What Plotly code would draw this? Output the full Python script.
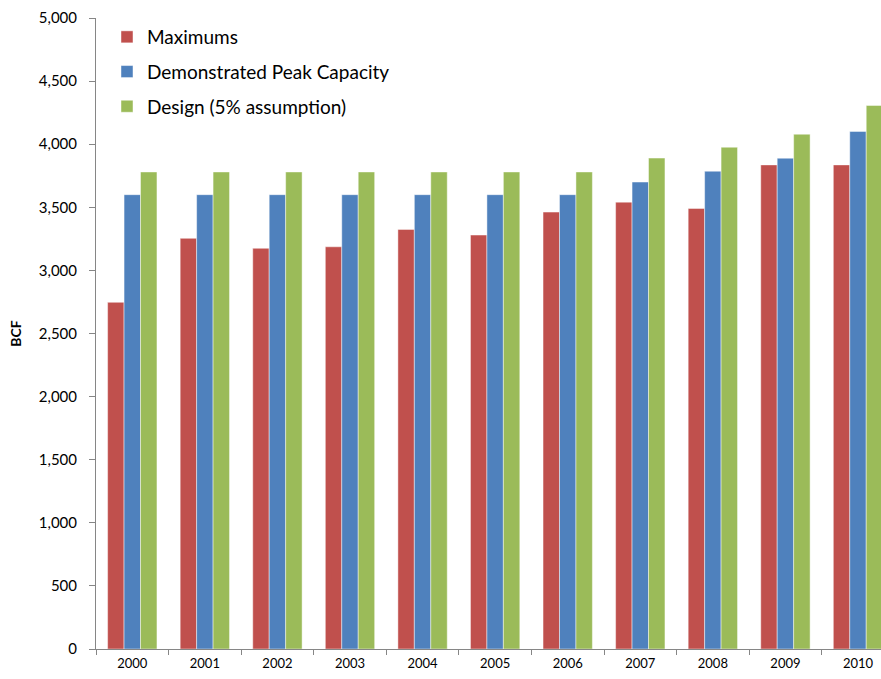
import plotly.graph_objects as go

years = ["2000", "2001", "2002", "2003", "2004", "2005", "2006", "2007", "2008", "2009", "2010"]
maximums = [2747, 3254, 3175, 3187, 3325, 3280, 3462, 3541, 3491, 3836, 3836]
demonstrated = [3600, 3600, 3600, 3600, 3600, 3600, 3600, 3700, 3786, 3889, 4101]
design = [3780, 3780, 3780, 3780, 3780, 3780, 3780, 3890, 3976, 4079, 4307]

series = [
    ("Maximums", maximums, "#C0504D"),
    ("Demonstrated Peak Capacity", demonstrated, "#4F81BD"),
    ("Design (5% assumption)", design, "#9BBB59"),
]

FONT = "Lato, Open Sans, sans-serif"

fig = go.Figure()
for i, (name, vals, color) in enumerate(series):
    fig.add_trace(go.Bar(
        x=years, y=vals, name=name, legendgroup=f"g{i}",
        marker=dict(color=color, line=dict(color="rgba(255,255,255,0.45)", width=1)),
    ))

fig.update_layout(
    width=881, height=679,
    margin=dict(l=96, r=0, t=18, b=30, autoexpand=False),
    paper_bgcolor="white", plot_bgcolor="white",
    barmode="group", bargap=0.32, bargroupgap=0,
    font=dict(family=FONT, color="black"),
    showlegend=True,
    legend=dict(
        x=0.014, y=1.0, xanchor="left", yanchor="top",
        font=dict(family=FONT, size=19, color="black"),
        bgcolor="rgba(0,0,0,0)", tracegroupgap=7, traceorder="grouped",
        itemwidth=30,
    ),
    xaxis=dict(
        type="category", range=[-0.5, 10.317],
        showline=True, linecolor="#868686", linewidth=1,
        ticks="outside", ticklen=5, tickcolor="#868686", tickson="boundaries",
        tickfont=dict(family=FONT, size=13, color="black"),
        ticklabelstandoff=2,
        showgrid=False, zeroline=False, fixedrange=True,
    ),
    yaxis=dict(
        range=[0, 5000], tickvals=list(range(0, 5001, 500)),
        tickformat=",d",
        showline=True, linecolor="#868686", linewidth=1,
        ticks="outside", ticklen=6, tickcolor="#868686",
        tickfont=dict(family=FONT, size=15, color="black"),
        ticklabelstandoff=9,
        showgrid=False, zeroline=False, fixedrange=True,
        title=dict(text="<b>BCF</b>", font=dict(family=FONT, size=14, color="black"), standoff=13),
    ),
)

fig.write_html(
    "out.html",
    config={"displayModeBar": False},
    post_script="document.body.style.margin='0px';document.body.style.overflow='hidden';",
)
